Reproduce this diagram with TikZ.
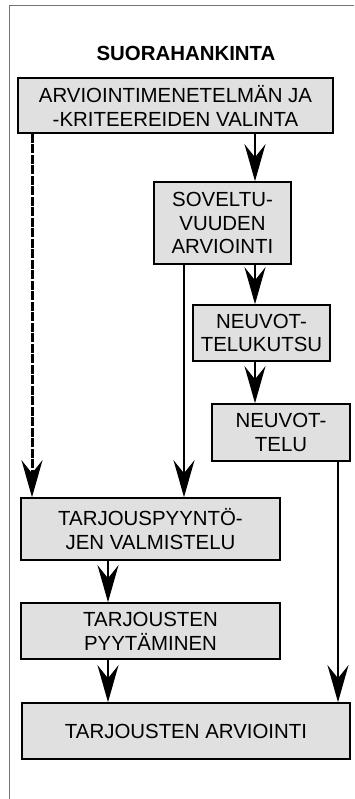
\documentclass[tikz,border=0pt]{standalone}
\usepackage{fontspec}
\setmainfont{Liberation Sans}
\usetikzlibrary{arrows.meta}

\begin{document}
\begin{tikzpicture}[
    x=1bp, y=-1bp,
    phase/.style={
        rectangle,
        draw=black,
        line width=1.6bp,
        fill=black!12,
        inner sep=0pt,
        font=\fontsize{20.5}{24}\selectfont,
        align=center
    },
    title/.style={
        font=\fontsize{20.5}{24}\selectfont\bfseries
    },
    arrow/.style={-{Stealth[length=37bp, width=21bp, inset=13bp]}, line width=1.6bp},
    dasharrow/.style={arrow, dash pattern=on 9bp off 1.5bp, line width=3bp}
]
\useasboundingbox (0,0) rectangle (354,799);

% frame
\draw[black!55, line width=1.2bp] (9.5,799) -- (9.5,5.5) -- (354,5.5);

\node[title] (head) at (186,53) {SUORAHANKINTA};

\node[phase, minimum width=315bp, minimum height=55bp] (b1) at (175.5,105.5)
    {ARVIOINTIMENETELMÄN JA\\-KRITEEREIDEN VALINTA};
\node[phase, minimum width=137bp, minimum height=82bp] (b2) at (222.5,223)
    {SOVELTU-\\VUUDEN\\ARVIOINTI};
\node[phase, minimum width=137bp, minimum height=56bp] (b3) at (261.5,333)
    {NEUVOT-\\TELUKUTSU};
\node[phase, minimum width=138bp, minimum height=57bp] (b4) at (281,432.5)
    {NEUVOT-\\TELU};
\node[phase, minimum width=259bp, minimum height=62bp] (b5) at (150.5,529)
    {TARJOUSPYYNTÖ-\\JEN VALMISTELU};
\node[phase, minimum width=259bp, minimum height=56bp] (b6) at (150.5,631)
    {TARJOUSTEN\\PYYTÄMINEN};
\node[phase, minimum width=328bp, minimum height=56bp] (b7) at (186,731)
    {TARJOUSTEN ARVIOINTI};

% columns of the connectors
\coordinate (cdash) at (32,0);
\coordinate (cleft) at (108,0);
\coordinate (cmid) at (184,0);
\coordinate (cright) at (255,0);
\coordinate (cfar) at (338,0);

\draw[arrow] (b1.south -| cright) -- (b2.north -| cright);
\draw[arrow] (b2.south -| cright) -- (b3.north -| cright);
\draw[arrow] (b3.south -| cright) -- (b4.north -| cright);
\draw[dasharrow] (b1.south -| cdash) -- (b5.north -| cdash);
\draw[arrow] (b2.south -| cmid) -- (b5.north -| cmid);
\draw[arrow] (b5.south -| cleft) -- (b6.north -| cleft);
\draw[arrow] (b6.south -| cleft) -- (b7.north -| cleft);
\draw[arrow] (b4.south -| cfar) -- (b7.north -| cfar);

\end{tikzpicture}
\end{document}
